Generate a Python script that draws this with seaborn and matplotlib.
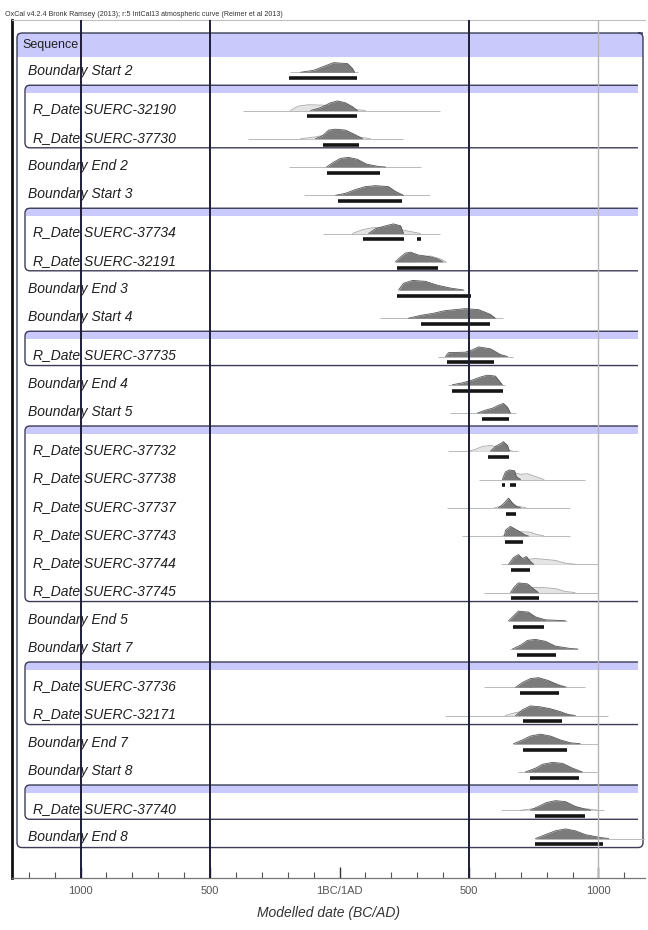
import numpy as np
import pandas as pd
import matplotlib
matplotlib.use("Agg")
import matplotlib.pyplot as plt
import matplotlib.transforms as mtransforms
from matplotlib.path import Path
from matplotlib.patches import PathPatch
from matplotlib.ticker import MultipleLocator
import seaborn as sns

# ---------------------------------------------------------------- data
header = ("OxCal v4.2.4 Bronk Ramsey (2013); r:5 IntCal13 atmospheric curve "
          "(Reimer et al 2013)")
sequence_label = "Sequence"

row_labels = [
    "Boundary Start 2",
    "R_Date SUERC-32190", "R_Date SUERC-37730",
    "Boundary End 2", "Boundary Start 3",
    "R_Date SUERC-37734", "R_Date SUERC-32191",
    "Boundary End 3", "Boundary Start 4",
    "R_Date SUERC-37735",
    "Boundary End 4", "Boundary Start 5",
    "R_Date SUERC-37732", "R_Date SUERC-37738", "R_Date SUERC-37737",
    "R_Date SUERC-37743", "R_Date SUERC-37744", "R_Date SUERC-37745",
    "Boundary End 5", "Boundary Start 7",
    "R_Date SUERC-37736", "R_Date SUERC-32171",
    "Boundary End 7", "Boundary Start 8",
    "R_Date SUERC-37740",
    "Boundary End 8",
]
# phase each row belongs to (0 = directly inside the sequence)
row_phase = [0, 1, 1, 0, 0, 2, 2, 0, 0, 3, 0, 0,
             4, 4, 4, 4, 4, 4, 0, 0, 5, 5, 0, 0, 6, 0]

# modelled (posterior) distributions: years (BC negative) and relative density
post_years = [
    [-150, -100, -62, -23, 31, 50, 58],
    [-112, -73, -35, -8, 23, 50, 69],
    [-93, -66, -42, -15, 23, 62, 89],
    [-50, -23, 4, 35, 69, 104, 151, 178],
    [-15, 23, 62, 100, 139, 189, 216, 247],
    [112, 139, 178, 208, 236, 247],
    [216, 236, 255, 274, 305, 344, 378, 398],
    [228, 247, 282, 332, 378, 429, 479],
    [266, 313, 359, 409, 448, 486, 537, 583, 602],
    [409, 421, 486, 514, 537, 583, 622, 649],
    [436, 475, 514, 544, 571, 602, 629],
    [533, 564, 591, 614, 633, 649, 660],
    [583, 602, 622, 633, 649, 656],
    [629, 641, 656, 676, 683, 699],
    [614, 633, 653, 668, 683, 699],
    [637, 641, 660, 680, 699, 718, 730],
    [653, 672, 691, 707, 722, 737, 750],
    [660, 676, 691, 726, 749, 768],
    [653, 672, 691, 730, 757, 795, 873],
    [668, 699, 726, 757, 795, 834, 892, 920],
    [680, 707, 737, 768, 807, 846, 873],
    [680, 707, 737, 776, 815, 853, 884, 911],
    [672, 707, 737, 776, 815, 853, 892, 930],
    [718, 757, 784, 822, 861, 900, 938],
    [737, 768, 799, 834, 873, 911, 950, 970],
    [757, 795, 834, 873, 911, 950, 1008, 1040],
]
post_density = [
    [0, 0.2, 0.6, 1.0, 0.9, 0.4, 0],
    [0, 0.3, 0.8, 1.0, 0.8, 0.4, 0],
    [0, 0.3, 0.9, 1.0, 0.9, 0.4, 0],
    [0, 0.5, 0.9, 1.0, 0.8, 0.3, 0.05, 0],
    [0, 0.2, 0.6, 0.9, 1.0, 0.9, 0.4, 0],
    [0, 0.5, 0.8, 1.0, 0.8, 0],
    [0, 0.5, 0.9, 1.0, 0.7, 0.55, 0.3, 0],
    [0, 0.7, 1.0, 0.9, 0.5, 0.2, 0],
    [0, 0.3, 0.5, 0.8, 0.9, 1.0, 0.9, 0.4, 0],
    [0, 0.4, 0.45, 0.7, 1.0, 0.8, 0.2, 0],
    [0, 0.2, 0.5, 0.8, 1.0, 0.9, 0],
    [0, 0.3, 0.5, 0.8, 1.0, 0.6, 0],
    [0, 0.5, 0.8, 1.0, 0.6, 0],
    [0, 0.8, 1.0, 0.9, 0.3, 0],
    [0, 0.4, 1.0, 0.5, 0.15, 0],
    [0, 0.6, 1.0, 0.7, 0.4, 0.1, 0],
    [0, 0.7, 1.0, 0.6, 0.8, 0.3, 0],
    [0, 0.6, 1.0, 0.9, 0.4, 0],
    [0, 0.5, 1.0, 0.9, 0.4, 0.1, 0],
    [0, 0.4, 0.9, 1.0, 0.8, 0.3, 0.05, 0],
    [0, 0.5, 0.9, 1.0, 0.7, 0.2, 0],
    [0, 0.6, 1.0, 0.9, 0.7, 0.4, 0.1, 0],
    [0, 0.4, 0.8, 1.0, 0.8, 0.4, 0.1, 0],
    [0, 0.4, 0.8, 1.0, 0.9, 0.4, 0],
    [0, 0.4, 0.8, 1.0, 0.9, 0.4, 0.1, 0],
    [0, 0.4, 0.8, 1.0, 0.8, 0.4, 0.1, 0],
]

# unmodelled (calibrated) distributions of the dates; empty for boundaries
prior_years = [
    [], [-190, -160, -120, -60, 0, 60, 100], [-150, -90, -40, 10, 60, 120],
    [], [],
    [50, 89, 127, 178, 236, 313], [290, 313, 351, 390, 410],
    [], [],
    [],
    [], [],
    [500, 525, 552, 583, 614, 641, 668], [630, 672, 699, 726, 757, 790],
    [600, 640, 680, 720], [630, 672, 699, 737, 757, 790],
    [660, 699, 753, 795, 834, 873, 910], [680, 720, 753, 795, 834, 873, 910],
    [], [],
    [740, 780, 810, 845, 880], [640, 680, 720, 760, 800, 850, 900],
    [], [],
    [700, 760, 820, 880, 940, 1000],
    [],
]
prior_density = [
    [], [0, 0.45, 0.6, 0.55, 0.35, 0.1, 0], [0, 0.2, 0.5, 0.5, 0.25, 0],
    [], [],
    [0, 0.4, 0.6, 0.65, 0.4, 0], [0, 0.5, 0.6, 0.3, 0],
    [], [],
    [],
    [], [],
    [0, 0.2, 0.5, 0.6, 0.45, 0.3, 0], [0, 0.7, 0.55, 0.6, 0.3, 0],
    [0, 0.25, 0.2, 0], [0, 0.55, 0.45, 0.4, 0.2, 0],
    [0, 0.35, 0.6, 0.5, 0.4, 0.1, 0], [0, 0.3, 0.55, 0.5, 0.4, 0.1, 0],
    [], [],
    [0, 0.55, 0.6, 0.3, 0], [0, 0.3, 0.5, 0.5, 0.4, 0.2, 0],
    [], [],
    [0, 0.2, 0.45, 0.45, 0.2, 0],
    [],
]

# extent of the faint tails drawn along each baseline
tail_start = [-190, -371, -355, -197, -139, -62, 216, 228, 158, 380, 420, 425,
              420, 537, 417, 473, 622, 560, 650, 660, 560, 409, 672, 690, 622, 757]
tail_end = [70, 390, 247, 313, 351, 390, 410, 479, 633, 672, 640, 680,
            690, 950, 892, 892, 1000, 1000, 880, 920, 950, 1039, 1000, 995, 1020, 1180]

# 95.4% highest posterior density ranges
hpd_ranges = [
    [(-197, 69)], [(-124, 69)], [(-62, 77)], [(-50, 158)], [(-4, 243)],
    [(89, 251), (301, 313)], [(224, 382)], [(224, 506)], [(313, 583)],
    [(417, 595)], [(436, 633)], [(552, 653)], [(575, 656)],
    [(629, 641), (660, 680)], [(645, 680)], [(641, 707)], [(664, 734)],
    [(664, 772)], [(672, 788)], [(687, 838)], [(699, 846)], [(707, 861)],
    [(707, 880)], [(737, 927)], [(757, 950)], [(757, 1019)],
]

tick_years = [-1000, -500, 0, 500, 1000]
tick_labels = ["1000", "500", "1BC/1AD", "500", "1000"]

# ---------------------------------------------------------------- layout
sns.set_theme(style="white")
plt.rcParams["font.family"] = ["Liberation Sans", "DejaVu Sans"]

W, H, DPI = 648, 930, 100
fig = plt.figure(figsize=(W / DPI, H / DPI), dpi=DPI)
ax_left, ax_right, ax_top, ax_bottom = 12, 645, 20, 878
ax = fig.add_axes([ax_left / W, 1 - ax_bottom / H,
                   (ax_right - ax_left) / W, (ax_bottom - ax_top) / H])

row_px = 28.25                       # one row in pixels
n_units = (ax_bottom - ax_top) / row_px
ax.set_ylim(n_units, 0)
ax.set_xlim(-1265, 1180)

seq_top = (33 - ax_top) / row_px
seq_head = (57 - ax_top) / row_px
phase_gap = 10 / row_px
band_h = 8 / row_px

centers = []
phase_boxes = []
cursor = seq_head
current = 0
top = None
for ph in row_phase:
    if ph != current:
        if current:
            phase_boxes.append((top, cursor - 0.14))
        if ph:
            top = cursor
            cursor += phase_gap
        current = ph
    centers.append(cursor + 0.5)
    cursor += 1
if current:
    phase_boxes.append((top, cursor - 0.14))
seq_bottom = cursor - 0.14

blend = mtransforms.blended_transform_factory(ax.transAxes, ax.transData)
lavender = "#c9c9fb"
edge = "#3c3c58"


def rounded_path(x0, x1, y0, y1, rx, ry, closed_right):
    verts = [(x1, y0), (x0 + rx, y0), (x0, y0), (x0, y0 + ry),
             (x0, y1 - ry), (x0, y1), (x0 + rx, y1), (x1, y1)]
    codes = [Path.MOVETO, Path.LINETO, Path.CURVE3, Path.CURVE3,
             Path.LINETO, Path.CURVE3, Path.CURVE3, Path.LINETO]
    if closed_right:
        verts[-1] = (x1 - rx, y1)
        verts += [(x1, y1), (x1, y1 - ry), (x1, y0 + ry), (x1, y0), (x1 - rx, y0),
                  (x1, y0)]
        codes += [Path.CURVE3, Path.CURVE3, Path.LINETO, Path.CURVE3, Path.CURVE3,
                  Path.MOVETO]
    return Path(verts, codes)


rx = 5 / (ax_right - ax_left)
ry = 5 / row_px

# sequence box with its header band
sx0, sx1 = (17 - ax_left) / (ax_right - ax_left), (643 - ax_left) / (ax_right - ax_left)
ax.fill_between([sx0, sx1], seq_top, seq_head, color=lavender, lw=0,
                transform=blend, zorder=1)
ax.add_patch(PathPatch(rounded_path(sx0, sx1, seq_top, seq_bottom, rx, ry, True),
                       fill=False, ec=edge, lw=1.0, transform=blend, zorder=2))
ax.text((22 - ax_left) / (ax_right - ax_left), (seq_top + seq_head) / 2,
        sequence_label, transform=blend, fontsize=9, va="center", color="#202020",
        zorder=6)

# phase boxes
px0, px1 = (25 - ax_left) / (ax_right - ax_left), (638 - ax_left) / (ax_right - ax_left)
for btop, bbot in phase_boxes:
    ax.fill_between([px0 + 0.002, px1], btop, btop + band_h, color=lavender, lw=0,
                    transform=blend, zorder=1)
    ax.add_patch(PathPatch(rounded_path(px0, px1, btop, bbot, rx, ry, False),
                           fill=False, ec=edge, lw=1.0, transform=blend, zorder=2))

# distributions
amp = 0.34
outline_rows = []
for i, c in enumerate(centers):
    base = c + 0.04
    ax.hlines(base, tail_start[i], tail_end[i], color="#b9b9b9", lw=0.7, zorder=2)
    if prior_years[i]:
        py = np.array(prior_years[i], float)
        pd_ = np.array(prior_density[i], float)
        ax.fill_between(py, base, base - amp * pd_, color="#e4e4e4", lw=0, zorder=2)
        ax.plot(py, base - amp * pd_, color="#a6a6a6", lw=0.6, zorder=2)
    xs = np.array(post_years[i], float)
    ds = np.array(post_density[i], float)
    ax.fill_between(xs, base, base - amp * ds, color="#7b7b7b", lw=0, zorder=3)
    for x, d in zip(xs, ds):
        outline_rows.append({"row": i, "year": x, "top": base - amp * d})
    for s, e in hpd_ranges[i]:
        ax.hlines(c + 0.25, s, e, color="#151515", lw=2.6, zorder=4)
    is_date = row_labels[i].startswith("R_Date")
    lx = (33 if is_date else 28) - ax_left
    ax.text(lx / (ax_right - ax_left), c, row_labels[i], transform=blend,
            fontsize=10, style="italic", va="center", color="#202020", zorder=6)

outline = pd.DataFrame(outline_rows)
sns.lineplot(data=outline, x="year", y="top", units="row", estimator=None,
             sort=False, color="#555555", lw=0.6, ax=ax, zorder=3, legend=False)

# reference lines
for yr in tick_years:
    if yr == 0:
        continue
    light = yr == 1000
    ax.axvline(yr, color="#b5b5b5" if light else "#1d1d38",
               lw=1.0 if light else 1.4, zorder=5)

# axes styling
ax.set_xticks(tick_years)
ax.set_xticklabels(tick_labels)
ax.xaxis.set_minor_locator(MultipleLocator(100))
ax.tick_params(axis="x", which="major", direction="in", length=8, width=1,
               color="#333333", labelsize=8, labelcolor="#555555", pad=6,
               bottom=True)
ax.tick_params(axis="x", which="minor", direction="in", length=4, width=0.8,
               color="#555555", bottom=True)
ax.set_yticks([])
ax.set_ylabel("")
ax.set_xlabel("Modelled date (BC/AD)", fontsize=10, style="italic",
              color="#333333", labelpad=7)
ax.spines["left"].set_linewidth(2.0)
ax.spines["left"].set_color("#111111")
ax.spines["bottom"].set_color("#777777")
ax.spines["bottom"].set_linewidth(0.9)
ax.spines["top"].set_color("#c0c0c0")
ax.spines["top"].set_linewidth(0.8)
ax.spines["right"].set_visible(False)
ax.grid(False)

fig.text(5 / W, 1 - 15 / H, header, fontsize=5.1, color="#333333", va="center")

fig.savefig("out.png", dpi=DPI)
